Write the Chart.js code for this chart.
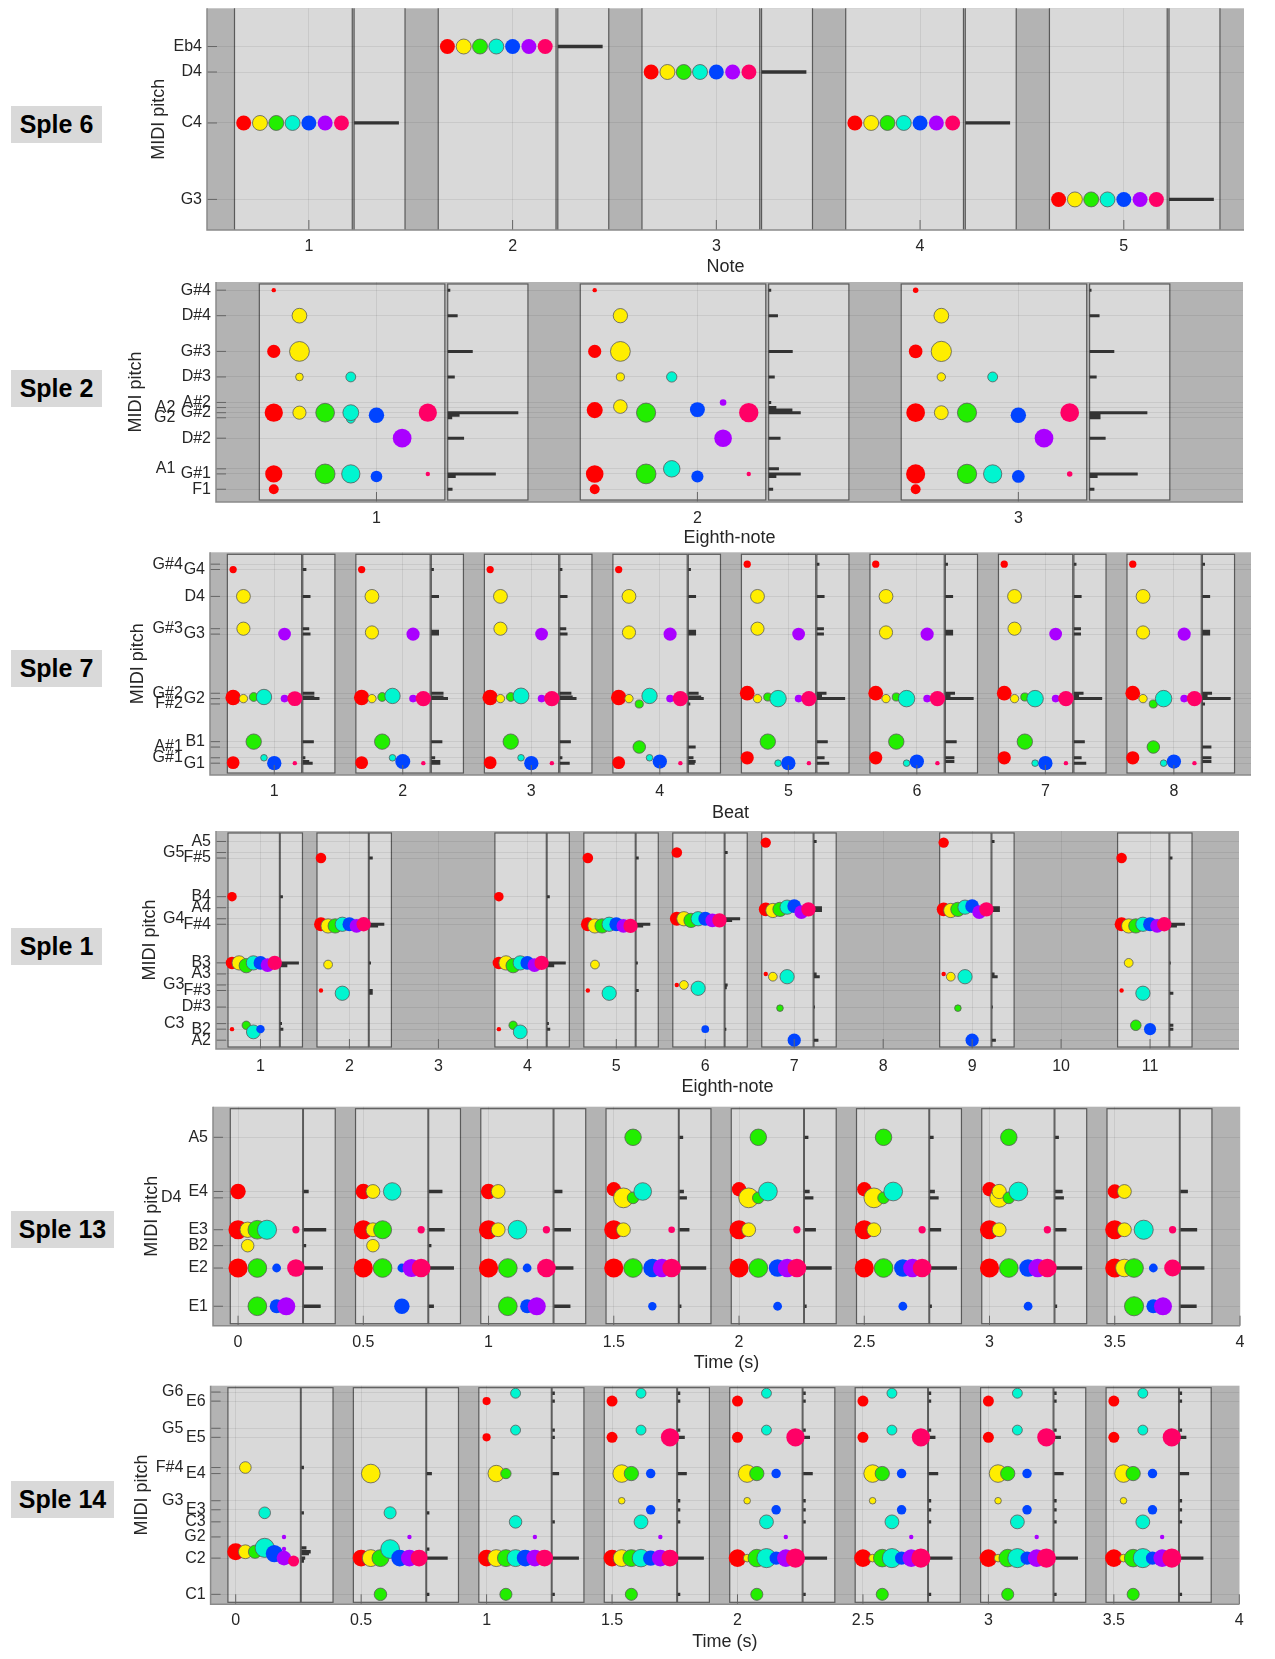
<!DOCTYPE html>
<html>
<head>
<meta charset="UTF-8">
<title>Sple pitch windows</title>
<script src="https://cdn.jsdelivr.net/npm/chart.js@4.4.1/dist/chart.umd.min.js"></script>
<style>
    body { margin: 0; background: #fff; }
    #page { position: relative; width: 1275px; height: 1659px; overflow: hidden; font-family: "Liberation Sans", Arial, sans-serif; }
    #page canvas { position: absolute; left: 0; }
    .tag { position: absolute; left: 11px; height: 37px; line-height: 37px; background: #d9d9d9; color: #000;
           font-weight: bold; font-size: 25px; text-align: center; }
</style>
</head>
<body>
<div id="page">
    <div class="tag" style="top:106px;width:91px">Sple 6</div>
    <div class="tag" style="top:370px;width:91px">Sple 2</div>
    <div class="tag" style="top:650px;width:91px">Sple 7</div>
    <div class="tag" style="top:928px;width:91px">Sple 1</div>
    <div class="tag" style="top:1211px;width:103px">Sple 13</div>
    <div class="tag" style="top:1481px;width:103px">Sple 14</div>
</div>

<script>
    // bubble = [channel, midi pitch, amplitude], hist = [midi pitch, weight]
    // channel order: red, yellow, green, cyan, blue, purple, pink

    // ---- Sple 6 ----
    var s6Windows = [1, 2, 3, 4, 5];
    var s6XTicks = [1, 2, 3, 4, 5];
    var s6YTickValues = [57, 60, 62, 63];
    var s6YTickNames = ['G3', 'C4', 'D4', 'Eb4'];
    var s6Bubbles = [
        [[0, 60, .68], [1, 60, .68], [2, 60, .68], [3, 60, .68], [4, 60, .68], [5, 60, .68], [6, 60, .68]],
        [[0, 63, .68], [1, 63, .68], [2, 63, .68], [3, 63, .68], [4, 63, .68], [5, 63, .68], [6, 63, .68]],
        [[0, 62, .68], [1, 62, .68], [2, 62, .68], [3, 62, .68], [4, 62, .68], [5, 62, .68], [6, 62, .68]],
        [[0, 60, .68], [1, 60, .68], [2, 60, .68], [3, 60, .68], [4, 60, .68], [5, 60, .68], [6, 60, .68]],
        [[0, 57, .68], [1, 57, .68], [2, 57, .68], [3, 57, .68], [4, 57, .68], [5, 57, .68], [6, 57, .68]]
    ];
    var s6Hist = [[[60, .22]], [[63, .22]], [[62, .22]], [[60, .22]], [[57, .22]]];

    // ---- Sple 2 ----
    var s2Windows = [1, 2, 3];
    var s2XTicks = [1, 2, 3];
    var s2YTickValues = [29, 32, 33, 39, 43, 44, 45, 46, 51, 56, 63, 68];
    var s2YTickNames = ['F1', 'G#1', 'A1', 'D#2', 'G2', 'G#2', 'A2', 'A#2', 'D#3', 'G#3', 'D#4', 'G#4'];
    var s2Bubbles = [
        [[0, 68, .2], [0, 56, .6], [0, 44, .83], [0, 32, .78], [0, 29, .45],
         [1, 63, .67], [1, 56, .9], [1, 51, .35], [1, 44, .6],
         [2, 44, .85], [2, 32, .9],
         [3, 51, .45], [3, 42.8, .4], [3, 44, .72], [3, 32, .83],
         [4, 43.5, .7], [4, 31.5, .53],
         [5, 39, .85],
         [6, 44, .83], [6, 32, .2]],
        [[0, 68, .2], [0, 56, .6], [0, 44.5, .73], [0, 32, .8], [0, 29, .45],
         [1, 63, .65], [1, 56, .9], [1, 51, .37], [1, 45.2, .62],
         [2, 44, .87], [2, 32, .9],
         [3, 51, .47], [3, 33, .75],
         [4, 44.6, .68], [4, 31.5, .55],
         [5, 46, .3], [5, 39, .8],
         [6, 44, .88], [6, 32, .2]],
        [[0, 68, .25], [0, 56, .62], [0, 44, .85], [0, 32, .87], [0, 29, .45],
         [1, 63, .67], [1, 56, .92], [1, 51, .38], [1, 44, .63],
         [2, 44, .87], [2, 32, .88],
         [3, 51, .45], [3, 32, .83],
         [4, 43.5, .7], [4, 31.5, .58],
         [5, 39, .85],
         [6, 44, .85], [6, 32, .25]]
    ];
    var s2Hist = [
        [[68, .008], [63, .031], [56, .078], [51, .022], [44, .22], [43.5, .037], [43, .014], [39, .051], [32, .15], [31.5, .025], [29, .015]],
        [[68, .008], [63, .029], [56, .075], [51, .019], [46, .008], [45, .024], [44.5, .074], [44, .1], [39, .037], [33, .032], [32, .1], [31.5, .024], [29, .014]],
        [[68, .006], [63, .031], [56, .077], [51, .022], [44, .18], [43.5, .034], [43, .034], [39, .05], [32, .15], [31.5, .025], [29, .015]]
    ];

    // ---- Sple 7 ----
    var s7Windows = [1, 2, 3, 4, 5, 6, 7, 8];
    var s7XTicks = [1, 2, 3, 4, 5, 6, 7, 8];
    var s7YTickValues = [31, 32, 34, 35, 42, 43, 44, 55, 56, 62, 67, 68];
    var s7YTickNames = ['G1', 'G#1', 'A#1', 'B1', 'F#2', 'G2', 'G#2', 'G3', 'G#3', 'D4', 'G4', 'G#4'];
    var s7Bubbles = [
        [[0, 67, .33], [0, 43.2, .7], [0, 31.1, .58], [1, 62, .63], [1, 56, .6], [1, 43, .38],
         [2, 43.3, .4], [2, 35, .7], [3, 43.3, .7], [3, 32, .3], [4, 31, .65],
         [5, 55, .58], [5, 43, .35], [6, 43, .68], [6, 31, .2]],
        [[0, 67, .33], [0, 43.2, .7], [0, 31.1, .58], [1, 62, .63], [1, 55.3, .6], [1, 43, .38],
         [2, 43.3, .4], [2, 35, .7], [3, 43.5, .7], [3, 32, .3], [4, 31.3, .68],
         [5, 55, .6], [5, 43, .35], [6, 43, .7], [6, 31, .2]],
        [[0, 67, .33], [0, 43.2, .7], [0, 31.1, .58], [1, 62, .63], [1, 56, .6], [1, 43, .38],
         [2, 43.3, .4], [2, 35, .7], [3, 43.5, .72], [3, 32, .3], [4, 31, .65],
         [5, 55, .58], [5, 43, .35], [6, 43, .7], [6, 31, .2]],
        [[0, 67, .33], [0, 43.2, .7], [0, 31.1, .58], [1, 62, .63], [1, 55.3, .6], [1, 43, .38],
         [2, 42, .37], [2, 34, .57], [3, 43.5, .7], [3, 32, .3], [4, 31.3, .65],
         [5, 55, .6], [5, 43, .35], [6, 43, .7], [6, 31, .2]],
        [[0, 68, .33], [0, 44, .67], [0, 32, .6], [1, 62, .63], [1, 56, .6], [1, 43, .38],
         [2, 43.3, .37], [2, 35, .7], [3, 43, .75], [3, 31, .3], [4, 31, .65],
         [5, 55, .58], [5, 43, .35], [6, 43, .7], [6, 31, .2]],
        [[0, 68, .33], [0, 44, .67], [0, 32, .6], [1, 62, .63], [1, 55.3, .6], [1, 43, .38],
         [2, 43.3, .37], [2, 35, .7], [3, 43, .75], [3, 31, .3], [4, 31.3, .65],
         [5, 55, .6], [5, 43, .35], [6, 43, .7], [6, 31, .2]],
        [[0, 68, .33], [0, 44, .67], [0, 32, .6], [1, 62, .63], [1, 56, .6], [1, 43, .38],
         [2, 43.3, .37], [2, 35, .7], [3, 43, .75], [3, 31, .3], [4, 31, .65],
         [5, 55, .58], [5, 43, .35], [6, 43, .7], [6, 31, .2]],
        [[0, 68, .33], [0, 44, .67], [0, 32, .6], [1, 62, .63], [1, 55.3, .6], [1, 43, .38],
         [2, 42, .37], [2, 34, .57], [3, 43, .75], [3, 31, .3], [4, 31.3, .65],
         [5, 55, .6], [5, 43, .35], [6, 43, .7], [6, 31, .2]]
    ];
    var s7Hist = [
        [[67, .028], [62, .06], [56, .05], [55, .06], [44, .09], [43.3, .09], [43, .13], [35, .086], [32, .02], [31.3, .05], [31, .077]],
        [[67, .02], [62, .06], [55.5, .06], [55, .06], [44, .095], [43.3, .095], [43, .13], [35, .086], [32, .03], [31.3, .07], [31, .07]],
        [[67, .02], [62, .06], [56, .05], [55, .06], [44, .09], [43.3, .1], [43, .13], [35, .086], [32, .02], [31, .077]],
        [[67, .02], [62, .06], [55.5, .06], [55, .06], [44, .08], [43.3, .1], [43, .12], [42, .015], [34, .057], [32, .04], [31.3, .057], [31, .05]],
        [[68, .02], [62, .06], [56, .055], [55, .055], [44, .075], [43.5, .04], [43, .22], [35, .085], [32, .06], [31, .096]],
        [[68, .02], [62, .06], [55.5, .06], [55, .06], [44, .075], [43.5, .04], [43, .22], [35, .088], [32, .07], [31.3, .07]],
        [[68, .02], [62, .06], [56, .055], [55, .055], [44, .075], [43.5, .04], [43, .22], [35, .085], [32, .06], [31, .096]],
        [[68, .02], [62, .06], [55.5, .06], [55, .06], [44, .075], [43.5, .04], [43, .22], [42, .02], [34, .07], [32, .07], [31.3, .07]]
    ];

    // ---- Sple 1 ----
    var s1Windows = [1, 2, 4, 5, 6, 7, 9, 11];
    var s1XTicks = [1, 2, 3, 4, 5, 6, 7, 8, 9, 10, 11];
    var s1YTickValues = [45, 47, 48, 51, 54, 55, 57, 59, 66, 67, 69, 71, 78, 79, 81];
    var s1YTickNames = ['A2', 'B2', 'C3', 'D#3', 'F#3', 'G3', 'A3', 'B3', 'F#4', 'G4', 'A4', 'B4', 'F#5', 'G5', 'A5'];
    var s1Bubbles = [
        [[0, 71, .43], [0, 59, .57], [0, 47, .2], [1, 59, .65], [2, 58.5, .65], [2, 47.7, .38],
         [3, 59, .65], [3, 46.5, .63], [4, 59, .63], [4, 47, .38], [5, 58.6, .63], [6, 59, .65]],
        [[0, 78, .48], [0, 66, .63], [0, 54, .2], [1, 65.7, .65], [1, 58.7, .4], [2, 65.7, .65],
         [3, 66, .65], [3, 53.5, .65], [4, 66, .63], [5, 65.7, .63], [6, 66, .65]],
        [[0, 71, .43], [0, 59, .57], [0, 47, .2], [1, 59, .65], [2, 58.5, .65], [2, 47.7, .38],
         [3, 59, .65], [3, 46.5, .63], [4, 59, .63], [5, 58.6, .63], [6, 59, .65]],
        [[0, 78, .48], [0, 66, .63], [0, 54, .2], [1, 65.7, .65], [1, 58.7, .4], [2, 65.7, .65],
         [3, 66, .65], [3, 53.5, .65], [4, 66, .63], [5, 65.7, .63], [6, 65.7, .65]],
        [[0, 79, .48], [0, 67, .63], [0, 55, .2], [1, 67, .65], [1, 55, .4], [2, 66.7, .65],
         [3, 67, .65], [3, 54.4, .65], [4, 67, .63], [4, 47, .35], [5, 66.7, .63], [6, 66.7, .65]],
        [[0, 80.8, .47], [0, 68.7, .63], [0, 57, .2], [1, 68.5, .65], [1, 56.5, .4], [2, 68.7, .65], [2, 50.8, .3],
         [3, 69.1, .65], [3, 56.5, .65], [4, 69.3, .63], [4, 45, .6], [5, 68.2, .63], [6, 68.7, .65]],
        [[0, 80.8, .47], [0, 68.7, .63], [0, 57, .2], [1, 68.5, .65], [1, 56.5, .4], [2, 68.7, .65], [2, 50.8, .3],
         [3, 69.1, .65], [3, 56.5, .65], [4, 69.3, .63], [4, 45, .6], [5, 68.2, .63], [6, 68.7, .65]],
        [[0, 78, .48], [0, 66, .63], [0, 54, .2], [1, 65.7, .65], [1, 59, .4], [2, 65.7, .65], [2, 47.7, .48],
         [3, 66, .65], [3, 53.5, .65], [4, 66, .63], [4, 47, .55], [5, 65.7, .63], [6, 66, .65]]
    ];
    var s1Hist = [
        [[71, .03], [59, .21], [58.5, .08], [48, .02], [47, .035]],
        [[78, .04], [66, .17], [65.7, .1], [59, .02], [54, .04], [53.5, .04]],
        [[71, .03], [59, .21], [58.5, .08], [48, .02], [47, .035]],
        [[78, .03], [66, .16], [65.7, .08], [59, .02], [54, .03]],
        [[79, .03], [67, .17], [66.7, .08], [55, .03], [54.5, .02], [47, .015]],
        [[81, .03], [69, .09], [68.5, .09], [57, .03], [56.5, .065], [51, .01], [45, .05]],
        [[81, .03], [69, .09], [68.5, .09], [57, .03], [56.5, .065], [51, .01], [45, .045]],
        [[78, .03], [66, .17], [65.7, .08], [59, .01], [53.5, .04], [47.7, .04], [47, .04]]
    ];

    // ---- Sple 13 ----
    var s13Windows = [0, 0.5, 1, 1.5, 2, 2.5, 3, 3.5];
    var s13XTicks = [0, 0.5, 1, 1.5, 2, 2.5, 3, 3.5, 4];
    var s13YTickValues = [28, 40, 47, 52, 62, 64, 81];
    var s13YTickNames = ['E1', 'E2', 'B2', 'E3', 'D4', 'E4', 'A5'];
    var s13Bubbles = [
        [[0, 64, .7], [0, 52, .87], [0, 40, .87], [1, 52, .7], [1, 47, .57],
         [2, 52, .85], [2, 40, .85], [2, 28, .85], [3, 52, .87], [4, 40, .4], [4, 28, .63],
         [5, 28, .82], [6, 52, .33], [6, 40, .8]],
        [[0, 64, .7], [0, 52, .87], [0, 40, .87], [1, 64, .63], [1, 52, .63], [1, 47, .57],
         [2, 52, .82], [2, 40, .85], [3, 64, .8], [4, 40, .4], [4, 28, .7],
         [5, 40, .82], [6, 52, .33], [6, 40, .85]],
        [[0, 64, .7], [0, 52, .87], [0, 40, .87], [1, 64, .63], [1, 52, .63],
         [2, 40, .85], [2, 28, .85], [3, 52, .85], [4, 40, .4], [4, 28, .63],
         [5, 28, .82], [6, 52, .33], [6, 40, .85]],
        [[0, 64.7, .65], [0, 52, .87], [0, 40, .87], [1, 62, .9], [1, 52, .63],
         [2, 81, .75], [2, 62, .53], [2, 40, .85], [3, 64, .8], [4, 40, .83], [4, 28, .38],
         [5, 40, .83], [6, 52, .3], [6, 40, .85]],
        [[0, 64.7, .65], [0, 52, .87], [0, 40, .87], [1, 62, .9], [1, 52, .63],
         [2, 81, .75], [2, 62, .53], [2, 40, .85], [3, 64, .85], [4, 40, .8], [4, 28, .4],
         [5, 40, .85], [6, 52, .33], [6, 40, .85]],
        [[0, 64.7, .65], [0, 52, .87], [0, 40, .87], [1, 62, .9], [1, 52, .63],
         [2, 81, .75], [2, 62, .53], [2, 40, .85], [3, 64, .85], [4, 40, .8], [4, 28, .4],
         [5, 40, .85], [6, 52, .33], [6, 40, .85]],
        [[0, 64.7, .65], [0, 52, .87], [0, 40, .87], [1, 62, .85], [1, 64, .65], [1, 52, .63],
         [2, 81, .75], [2, 62, .53], [2, 40, .85], [3, 64, .85], [4, 40, .8], [4, 28, .4],
         [5, 40, .85], [6, 52, .33], [6, 40, .85]],
        [[0, 64, .65], [0, 52, .87], [0, 40, .87], [1, 64, .63], [1, 52, .63], [1, 40, .8],
         [2, 40, .85], [2, 28, .87], [3, 52, .87], [4, 40, .4], [4, 28, .63],
         [5, 28, .82], [6, 52, .33], [6, 40, .77]]
    ];
    var s13Hist = [
        [[64, .02], [52, .09], [47, .01], [40, .077], [28, .068]],
        [[64, .054], [52, .063], [47, .01], [40, .1], [28, .02]],
        [[64, .033], [52, .067], [40, .077], [28, .065]],
        [[81, .015], [64, .018], [62, .03], [52, .04], [40, .107], [28, .008]],
        [[81, .015], [64, .02], [62, .035], [52, .045], [40, .108], [28, .008]],
        [[81, .015], [64, .02], [62, .035], [52, .045], [40, .108], [28, .008]],
        [[81, .015], [64, .03], [62, .035], [52, .045], [40, .108], [28, .008]],
        [[64, .03], [52, .067], [40, .096], [28, .065]]
    ];

    // ---- Sple 14 ----
    var s14Windows = [0, 0.5, 1, 1.5, 2, 2.5, 3, 3.5];
    var s14XTicks = [0, 0.5, 1, 1.5, 2, 2.5, 3, 3.5, 4];
    var s14YTickValues = [24, 36, 43, 48, 52, 55, 64, 66, 76, 79, 88, 91];
    var s14YTickNames = ['C1', 'C2', 'G2', 'C3', 'E3', 'G3', 'E4', 'F#4', 'E5', 'G5', 'E6', 'G6'];
    var s14Bubbles = [
        [[0, 38.1, .77], [1, 66, .53], [1, 38.1, .63], [2, 38.1, .6], [3, 51, .53], [3, 39.4, .87],
         [4, 37.5, .78], [5, 43, .2], [5, 39, .2], [5, 36, .67], [6, 35, .5]],
        [[0, 36, .77], [1, 64, .85], [1, 36, .77], [2, 36, .77], [2, 24, .57], [3, 51, .55], [3, 39, .85],
         [4, 36, .77], [5, 43, .2], [5, 36, .77], [6, 36, .77]],
        [[0, 88, .37], [0, 76, .37], [0, 36, .77], [1, 64, .75], [1, 36, .77], [2, 64, .47], [2, 36, .77], [2, 24, .55],
         [3, 90.6, .45], [3, 78.4, .45], [3, 48, .57], [3, 36, .77], [4, 36, .77], [5, 43, .2], [5, 36, .77], [6, 36, .77]],
        [[0, 88, .5], [0, 76, .5], [0, 36, .77], [1, 64, .8], [1, 55, .3], [1, 36, .77], [2, 64, .65], [2, 36, .77], [2, 24, .55],
         [3, 90.6, .45], [3, 78.4, .45], [3, 48, .63], [3, 36, .8], [4, 64, .43], [4, 52, .43], [4, 36, .7],
         [5, 43, .2], [5, 36, .77], [6, 76, .83], [6, 36, .77]],
        [[0, 88, .5], [0, 76, .5], [0, 36, .8], [1, 64, .8], [1, 55, .3], [1, 36, .35], [2, 64, .65], [2, 36, .8], [2, 24, .55],
         [3, 90.6, .45], [3, 78.4, .45], [3, 48, .63], [3, 36, .87], [4, 64, .43], [4, 52, .43], [4, 36, .6],
         [5, 43, .2], [5, 36, .8], [6, 76, .83], [6, 36, .87]],
        [[0, 88, .5], [0, 76, .5], [0, 36, .8], [1, 64, .8], [1, 55, .3], [1, 36, .35], [2, 64, .65], [2, 36, .8], [2, 24, .55],
         [3, 90.6, .45], [3, 78.4, .45], [3, 48, .63], [3, 36, .87], [4, 64, .43], [4, 52, .43], [4, 36, .6],
         [5, 43, .2], [5, 36, .8], [6, 76, .83], [6, 36, .87]],
        [[0, 88, .5], [0, 76, .5], [0, 36, .8], [1, 64, .8], [1, 55, .3], [1, 36, .35], [2, 64, .65], [2, 36, .8], [2, 24, .55],
         [3, 90.6, .45], [3, 78.4, .45], [3, 48, .63], [3, 36, .87], [4, 64, .43], [4, 52, .43], [4, 36, .6],
         [5, 43, .2], [5, 36, .8], [6, 76, .83], [6, 36, .87]],
        [[0, 88, .5], [0, 76, .5], [0, 36, .8], [1, 64, .8], [1, 55, .3], [1, 36, .35], [2, 64, .65], [2, 36, .8], [2, 24, .55],
         [3, 90.6, .45], [3, 78.4, .45], [3, 48, .63], [3, 36, .87], [4, 64, .43], [4, 52, .43], [4, 36, .6],
         [5, 43, .2], [5, 36, .8], [6, 76, .83], [6, 36, .87]]
    ];
    var s14Hist = [
        [[66, .01], [51, .01], [39.4, .02], [38.1, .037], [37.5, .03], [36, .015], [35, .01]],
        [[64, .02], [51, .01], [39, .01], [36, .083], [24, .01]],
        [[90.6, .01], [88, .01], [78.4, .01], [76, .01], [64, .027], [48, .01], [36, .106], [24, .01]],
        [[90.6, .01], [88, .01], [78.4, .01], [76, .028], [64, .036], [55, .01], [52, .01], [48, .01], [36, .104], [24, .01]],
        [[90.6, .01], [88, .01], [78.4, .01], [76, .027], [64, .038], [55, .01], [52, .01], [48, .01], [36, .095], [24, .01]],
        [[90.6, .01], [88, .01], [78.4, .01], [76, .027], [64, .038], [55, .01], [52, .01], [48, .01], [36, .095], [24, .01]],
        [[90.6, .01], [88, .01], [78.4, .01], [76, .027], [64, .038], [55, .01], [52, .01], [48, .01], [36, .095], [24, .01]],
        [[90.6, .01], [88, .01], [78.4, .01], [76, .027], [64, .038], [55, .01], [52, .01], [48, .01], [36, .095], [24, .01]]
    ];

    // ---- drawing ----
    var COLORS = ['#ff0000', '#ffee00', '#22ee00', '#00f5d0', '#0044ff', '#aa00ff', '#ff0066'];
    var OUTLINED = [false, true, true, true, false, false, false];
    var RADIUS_PER_AMP = 11;
    var INK = '#262626';
    var FONT = '"Liberation Sans", Arial, Helvetica, sans-serif';
    var NBSP = '\u00a0';

    // where each channel sits inside a window, and the window boxes
    var LAYOUTS = {
        beat: { slot: function (k) { return (k - 4) * 0.08; }, box: [-0.365, 0.213, 0.222, 0.472], histStart: 0.222 },
        time: { slot: function (k) { return k * 0.0385; }, box: [-0.031, 0.258, 0.261, 0.388], histStart: 0.262 }
    };

    var panels = [
        { plot: [207, 8.3, 1244, 230], tickY: 246.7, xLabelY: 266.7, yTitleX: 159, x: [0.5, 5.59], y: [55.8, 64.5],
          xTicks: s6XTicks, yVals: s6YTickValues, yNames: s6YTickNames, shifted: [], spaces: 0, xTitle: 'Note',
          windows: s6Windows, bubbles: s6Bubbles, hist: s6Hist, layout: 'beat', inset: -3, barWidth: 3.3 },
        { plot: [216, 282, 1243, 502], tickY: 518.3, xLabelY: 538.5, yTitleX: 136, x: [0.5, 3.7], y: [26.5, 69.6],
          xTicks: s2XTicks, yVals: s2YTickValues, yNames: s2YTickNames, shifted: ['A1', 'G2', 'A2'], spaces: 8, xTitle: 'Eighth-note',
          windows: s2Windows, bubbles: s2Bubbles, hist: s2Hist, layout: 'beat', inset: 2, barWidth: 3 },
        { plot: [210, 552.3, 1251, 775], tickY: 791.7, xLabelY: 812.6, yTitleX: 138, x: [0.5, 8.6], y: [28.8, 70.2],
          xTicks: s7XTicks, yVals: s7YTickValues, yNames: s7YTickNames, shifted: ['G#4', 'G#3', 'G#2', 'F#2', 'A#1', 'G#1'], spaces: 5, xTitle: 'Beat',
          windows: s7Windows, bubbles: s7Bubbles, hist: s7Hist, layout: 'beat', inset: 2, barWidth: 3 },
        { plot: [216, 831, 1239, 1049], tickY: 1066.7, xLabelY: 1086.7, yTitleX: 150, x: [0.5, 12], y: [43.4, 82.9],
          xTicks: s1XTicks, yVals: s1YTickValues, yNames: s1YTickNames, shifted: ['G5', 'G4', 'G3', 'C3'], spaces: 6, xTitle: 'Eighth-note',
          windows: s1Windows, bubbles: s1Bubbles, hist: s1Hist, layout: 'beat', inset: 2, barWidth: 3 },
        { plot: [213, 1106.7, 1240, 1325.7], tickY: 1342.3, xLabelY: 1362.8, yTitleX: 152, x: [-0.1, 4], y: [21.9, 90.6],
          xTicks: s13XTicks, yVals: s13YTickValues, yNames: s13YTickNames, shifted: ['D4'], spaces: 6, xTitle: 'Time (s)',
          windows: s13Windows, bubbles: s13Bubbles, hist: s13Hist, layout: 'time', inset: 2, barWidth: 3.3 },
        { plot: [210.6, 1385.7, 1239.3, 1604.3], tickY: 1620.7, xLabelY: 1641.7, yTitleX: 142, x: [-0.1, 4], y: [20.7, 93.1],
          xTicks: s14XTicks, yVals: s14YTickValues, yNames: s14YTickNames, shifted: ['G6', 'G5', 'F#4', 'G3'], spaces: 5, xTitle: 'Time (s)',
          windows: s14Windows, bubbles: s14Bubbles, hist: s14Hist, layout: 'time', inset: 2, barWidth: 3.3 }
    ];

    function makeDeco(p, L) {
        return {
            id: 'deco',
            beforeDraw: function (chart) {
                var ctx = chart.ctx, a = chart.chartArea, x = chart.scales.x;
                ctx.save();
                ctx.fillStyle = '#b3b3b3';
                ctx.fillRect(a.left, a.top, a.right - a.left, a.bottom - a.top);
                ctx.beginPath();
                ctx.rect(a.left, a.top, a.right - a.left, a.bottom - a.top);
                ctx.clip();
                var t = a.top + p.inset, b = a.bottom - p.inset;
                p.windows.forEach(function (c) {
                    var px = L.box.map(function (o) { return x.getPixelForValue(c + o); });
                    [[px[0], px[1]], [px[2], px[3]]].forEach(function (e) {
                        ctx.fillStyle = '#d9d9d9';
                        ctx.fillRect(e[0], t, e[1] - e[0], b - t);
                        ctx.strokeStyle = '#5a5a5a';
                        ctx.lineWidth = 1.2;
                        ctx.strokeRect(e[0], t, e[1] - e[0], b - t);
                    });
                });
                ctx.restore();
            },
            afterDraw: function (chart) {
                var ctx = chart.ctx, a = chart.chartArea, x = chart.scales.x, y = chart.scales.y;
                ctx.save();
                ctx.strokeStyle = '#666';
                ctx.lineWidth = 1;
                ctx.beginPath();
                y.ticks.forEach(function (tk) {
                    var py = y.getPixelForValue(tk.value);
                    ctx.moveTo(a.left, py); ctx.lineTo(a.left + 10, py);
                });
                x.ticks.forEach(function (tk) {
                    var px = x.getPixelForValue(tk.value);
                    ctx.moveTo(px, a.bottom); ctx.lineTo(px, a.bottom - 10);
                });
                ctx.stroke();
                ctx.strokeStyle = '#8a8a8a';
                ctx.lineWidth = 1.5;
                ctx.beginPath();
                ctx.moveTo(a.left, a.top); ctx.lineTo(a.left, a.bottom); ctx.lineTo(a.right, a.bottom);
                ctx.stroke();
                ctx.restore();
            }
        };
    }

    var page = document.getElementById('page');

    panels.forEach(function (p) {
        var L = LAYOUTS[p.layout];
        var top = Math.round(p.plot[1] - 16);
        var height = Math.round(p.xLabelY + 14 - top);
        var cv = document.createElement('canvas');
        cv.width = 1275;
        cv.height = height;
        cv.style.top = top + 'px';
        page.appendChild(cv);

        var titleLH = 18 * 1.2;
        var padLeft = p.yTitleX - titleLH / 2;
        var yWidth = p.plot[0] - padLeft;
        var xBottom = p.xLabelY + titleLH / 2;
        var xHeight = xBottom - p.plot[3];

        var datasets = COLORS.map(function (c, k) {
            var pts = [];
            p.bubbles.forEach(function (win, w) {
                win.forEach(function (b) {
                    if (b[0] === k) pts.push({ x: p.windows[w] + L.slot(k), y: b[1], r: b[2] * RADIUS_PER_AMP });
                });
            });
            return {
                type: 'bubble', data: pts, backgroundColor: c,
                borderColor: OUTLINED[k] ? '#5a5a5a' : c, borderWidth: OUTLINED[k] ? 0.8 : 0,
                order: 6 - k
            };
        });

        var bars = [];
        p.hist.forEach(function (win, w) {
            var x0 = p.windows[w] + L.histStart;
            win.forEach(function (h) {
                bars.push({ x: x0, y: h[0] }, { x: x0 + h[1], y: h[0] }, { x: x0 + h[1], y: null });
            });
        });
        datasets.push({
            type: 'line', data: bars, borderColor: '#333333', borderWidth: p.barWidth,
            borderCapStyle: 'butt', pointRadius: 0, spanGaps: false, tension: 0, order: 10
        });

        var tickFont = { size: 16, family: FONT };
        var titleFont = { size: 18, family: FONT, lineHeight: 1.2 };
        var grid = { color: 'rgba(0,0,0,0.07)', lineWidth: 1, drawTicks: false };

        new Chart(cv, {
            type: 'bubble',
            data: { datasets: datasets },
            options: {
                responsive: false,
                animation: false,
                events: [],
                layout: { padding: { left: padLeft, right: 1275 - p.plot[2], top: p.plot[1] - top, bottom: height - (xBottom - top) } },
                plugins: { legend: { display: false }, tooltip: { enabled: false } },
                scales: {
                    x: {
                        type: 'linear', min: p.x[0], max: p.x[1],
                        afterBuildTicks: function (s) { s.ticks = p.xTicks.map(function (v) { return { value: v }; }); },
                        afterFit: function (s) { s.height = xHeight; },
                        grid: grid, border: { display: false },
                        ticks: {
                            autoSkip: false, maxRotation: 0, padding: p.tickY - p.plot[3] - 9.6, color: INK, font: tickFont,
                            callback: function (v) { return String(v); }
                        },
                        title: { display: true, text: p.xTitle, color: INK, font: titleFont, padding: 0 }
                    },
                    y: {
                        type: 'linear', min: p.y[0], max: p.y[1],
                        afterBuildTicks: function (s) { s.ticks = p.yVals.map(function (v) { return { value: v }; }); },
                        afterFit: function (s) { s.width = yWidth; },
                        grid: grid, border: { display: false },
                        ticks: {
                            autoSkip: false, padding: 5, color: INK, font: tickFont,
                            callback: function (v) {
                                var n = p.yNames[p.yVals.indexOf(v)];
                                return p.shifted.indexOf(n) >= 0 ? n + NBSP.repeat(p.spaces) : n;
                            }
                        },
                        title: { display: true, text: 'MIDI pitch', color: INK, font: titleFont, padding: 0 }
                    }
                }
            },
            plugins: [makeDeco(p, L)]
        });
    });
</script>
</body>
</html>
